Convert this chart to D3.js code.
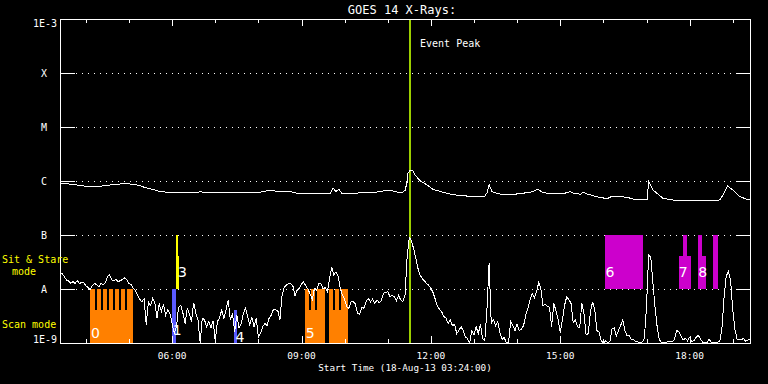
<!DOCTYPE html>
<html><head><meta charset="utf-8">
<script src="https://cdn.jsdelivr.net/npm/d3@7"></script>
<style>html,body{margin:0;padding:0;background:#000;}svg{display:block;}</style>
</head><body><svg id="c" width="768" height="384"></svg>
<script>
// ---------- data ----------
const title = "GOES 14 X-Rays:";
const xAxisTitle = "Start Time (18-Aug-13 03:24:00)";
const dateStr = "2013-08-18";
const startTime = "03:24";
const endTime = "19:24";
const xMajorHours = [6, 9, 12, 15, 18];
const xTickLabels = ["06:00", "09:00", "12:00", "15:00", "18:00"];
const xMinorHours = [4, 5, 7, 8, 10, 11, 13, 14, 16, 17, 19];
const yTickValues = [1e-3, 1e-4, 1e-5, 1e-6, 1e-7, 1e-8, 1e-9];
const yTickLabels = ["1E-3", "X", "M", "C", "B", "A", "1E-9"];
const peakTime = "11:31";
const peakLabel = "Event Peak";

// short channel, 3-minute samples from 03:24
const shortStepMinutes = 3;
const shortFlux = [
1.95e-8,1.95e-8,1.69e-8,1.47e-8,1.41e-8,1.27e-8,1.37e-8,1.27e-8,1.43e-8,1.27e-8,
1.31e-8,1.33e-8,1.15e-8,1.07e-8,9.6e-9,1.15e-8,1.27e-8,1.19e-8,1.10e-8,1.27e-8,
1.19e-8,1.31e-8,1.69e-8,1.82e-8,1.47e-8,1.41e-8,1.51e-8,1.37e-8,1.43e-8,1.51e-8,
1.60e-8,1.47e-8,1.27e-8,1.20e-8,1.03e-8,9.3e-9,7.7e-9,6.4e-9,5.8e-9,6.6e-9,
2.2e-9,5.8e-9,5.0e-9,6.7e-9,5.6e-9,2.9e-9,5.4e-9,3.8e-9,5.3e-9,3.3e-9,
4.1e-9,3.5e-9,2.3e-9,1.5e-9,2.0e-9,4.6e-9,5.0e-9,3.6e-9,2.3e-9,4.4e-9,
3.5e-9,2.5e-9,5.6e-9,3.5e-9,2.7e-9,9e-10,2.9e-9,2.7e-9,2.0e-9,2.5e-9,
1.9e-9,2.6e-9,1.1e-9,2.5e-9,2.9e-9,4.1e-9,2.9e-9,4.1e-9,6.3e-9,2.7e-9,
3.5e-9,1.6e-9,3.3e-9,1.9e-9,2.3e-9,3.4e-9,4.4e-9,3.1e-9,2.2e-9,3.0e-9,
2.0e-9,2.9e-9,1.3e-9,1.5e-9,2.0e-9,2.3e-9,2.1e-9,2.9e-9,3.3e-9,4.2e-9,
4.1e-9,4.0e-9,2.7e-9,7.7e-9,1.07e-8,1.19e-8,1.27e-8,1.27e-8,1.14e-8,7.4e-9,
9.6e-9,1.03e-8,1.24e-8,1.35e-8,1.14e-8,9.9e-9,8.1e-9,6.4e-9,1.03e-8,9.6e-9,
1.27e-8,1.27e-8,9.9e-9,1.07e-8,8.9e-9,1.51e-8,2.59e-8,1.82e-8,2.09e-8,1.74e-8,
1.03e-8,7.7e-9,6.4e-9,4.7e-9,4.4e-9,5.8e-9,5.8e-9,5.3e-9,3.5e-9,3.4e-9,
4.6e-9,4.4e-9,5.9e-9,6.7e-9,5.8e-9,6.5e-9,5.4e-9,6.3e-9,5.6e-9,6.1e-9,
8.3e-9,8.6e-9,8.9e-9,7.3e-9,7.6e-9,7.2e-9,6.1e-9,7.6e-9,6.3e-9,5.8e-9,
7.7e-9,3.97e-8,9.06e-8,7.74e-8,5.58e-8,3.70e-8,2.41e-8,1.82e-8,1.55e-8,1.41e-8,
1.27e-8,1.17e-8,1.03e-8,8.6e-9,6.5e-9,4.8e-9,4.2e-9,3.8e-9,3.1e-9,2.9e-9,
2.3e-9,2.7e-9,2.1e-9,2.2e-9,1.5e-9,1.7e-9,2.0e-9,1.7e-9,1.3e-9,1.2e-9,
9e-10,1.7e-9,1.4e-9,2.0e-9,1.5e-9,2.2e-9,1.2e-9,1.1e-9,4.1e-9,2.99e-8,
2.3e-9,2.7e-9,2.1e-9,2.5e-9,1.55e-9,1.17e-9,1.27e-9,1.01e-9,9e-10,2.5e-9,
2.1e-9,1.7e-9,2.25e-9,1.7e-9,1.8e-9,2.1e-9,3.3e-9,4.4e-9,6.3e-9,8.1e-9,
6.9e-9,8.9e-9,1.31e-8,1.03e-8,4.8e-9,5.3e-9,4.8e-9,4.6e-9,2.0e-9,5.4e-9,
4.0e-9,2.7e-9,1.55e-9,2.7e-9,5.0e-9,7.2e-9,6.4e-9,5.4e-9,2.4e-9,2.7e-9,
2.0e-9,1.9e-9,5.4e-9,3.5e-9,1.4e-9,1.5e-9,3.8e-9,5.8e-9,4.2e-9,1.7e-9,
1.6e-9,1.1e-9,9e-10,1.1e-9,9e-10,1.06e-9,1.8e-9,1.9e-9,1.35e-9,1.7e-9,
2.1e-9,2.7e-9,1.7e-9,1.35e-9,1.35e-9,1.17e-9,1.14e-9,1.07e-9,1.04e-9,9e-10,
1.04e-9,1.22e-9,4.7e-9,4.26e-8,3.86e-8,1.27e-8,4.4e-9,1.9e-9,1.14e-9,1.01e-9,
9e-10,1.01e-9,1.06e-9,1.06e-9,1.06e-9,1.17e-9,1.7e-9,1.6e-9,1.37e-9,1.14e-9,
1.22e-9,1.1e-9,1.27e-9,1.06e-9,1.1e-9,1.27e-9,1.4e-9,1.19e-9,1.04e-9,9e-10,
1.01e-9,1.17e-9,1.04e-9,1.04e-9,1.04e-9,1.04e-9,1.06e-9,1.9e-9,7.2e-9,1.74e-8,
2.09e-8,1.47e-8,4.1e-9,1.8e-9,1.17e-9,1.14e-9,1.17e-9,1.2e-9,1.07e-9,1.14e-9,1.14e-9
];

// long channel, minutes after 03:24
const longMinutes = [
0,18,39,56,65,74,84,97,111,118,
129,139,149,157,185,195,205,213,232,241,
260,269,278,292,306,324,330,376,380,384,
388,392,413,422,441,449,463,469,477,480,
483,484,487,491,494,501,511,519,533,543,
557,566,591,594,597,601,608,616,636,654,
661,665,671,678,692,700,705,710,714,724,
728,733,747,761,769,779,789,797,817,819,
825,839,858,890,918,925,929,936,946,956,
960];
const longFlux = [
9.07e-7,8.69e-7,7.84e-7,8.01e-7,8.26e-7,8.62e-7,8.80e-7,8.80e-7,8.26e-7,7.58e-7,
7.02e-7,6.39e-7,6.20e-7,6.00e-7,6.00e-7,6.30e-7,6.12e-7,6.00e-7,6.00e-7,6.07e-7,
6.25e-7,6.00e-7,6.18e-7,6.73e-7,6.33e-7,6.25e-7,5.92e-7,5.92e-7,7.32e-7,6.39e-7,
7.11e-7,5.92e-7,5.92e-7,6.25e-7,6.25e-7,6.53e-7,6.53e-7,6.25e-7,6.25e-7,6.67e-7,
9.58e-7,1.39e-6,1.56e-6,1.53e-6,1.29e-6,1.01e-6,8.43e-7,7.02e-7,6.18e-7,5.75e-7,
5.34e-7,5.27e-7,5.27e-7,6.00e-7,8.69e-7,6.33e-7,5.92e-7,5.57e-7,5.75e-7,6.18e-7,
6.67e-7,7.02e-7,6.18e-7,5.92e-7,5.92e-7,5.75e-7,6.12e-7,6.33e-7,6.00e-7,5.67e-7,
6.18e-7,5.75e-7,5.12e-7,4.70e-7,5.27e-7,5.12e-7,4.99e-7,4.64e-7,4.64e-7,9.71e-7,
6.81e-7,4.78e-7,4.32e-7,4.32e-7,4.45e-7,6.33e-7,8.08e-7,6.81e-7,5.12e-7,4.58e-7,
4.45e-7];

// scan-mode bars [start, end, top level]; they rise from the 1E-9 floor
const scanBars = [
  ["04:06","05:06",4e-9],
  ["04:06","04:13",1e-8],["04:15","04:21",1e-8],["04:24","04:29",1e-8],["04:32","04:38",1e-8],
  ["04:40","04:46",1e-8],["04:49","04:54",1e-8],["04:57","05:06",1e-8],
  ["09:05","09:33",4e-9],["09:38","10:05",4e-9],
  ["09:05","09:10",1e-8],["09:13","09:19",1e-8],["09:22","09:33",1e-8],
  ["09:38","09:44",1e-8],["09:47","09:52",1e-8],["09:55","10:05",1e-8]
];
const blueBars = [["06:00","06:06",1e-8],["07:26","07:30",4e-9]];
// sit & stare bars [start, end, top level]; they rise from the A (1E-8) level
const yellowBars = [["06:05","06:08",1e-7],["06:05","06:09",4e-8]];
const magentaBars = [
  ["16:02","16:55",1e-7],
  ["17:51","17:56",1e-7],["17:45","18:02",4e-8],
  ["18:12","18:17",1e-7],["18:12","18:23",4e-8],
  ["18:33","18:40",1e-7]
];
const eventLabels = [
  ["0","04:07","scan"],["1","06:01","blue"],["3","06:08","stare"],["4","07:28","blue2"],
  ["5","09:06","scan"],["6","16:03","stare"],["7","17:45","stare"],["8","18:12","stare"]
];

// ---------- drawing ----------
const svg = d3.select("#c");
svg.append("rect").attr("width",768).attr("height",384).attr("fill","#000");
const T = s => new Date(dateStr + "T" + s + ":00Z");
const t0 = T(startTime);
const x = d3.scaleUtc().domain([t0, T(endTime)]).range([60, 750]);
const y = d3.scaleLog().domain([1e-9, 1e-3]).range([343, 19]).clamp(true);
const mono = "'DejaVu Sans Mono', monospace";

const g = svg.append("g").attr("shape-rendering","crispEdges");

// dotted class grid lines
g.selectAll("line.grid").data(yTickValues.slice(1, -1)).join("line")
  .attr("x1", 76).attr("x2", 736)
  .attr("y1", d => Math.round(y(d)) + 0.5).attr("y2", d => Math.round(y(d)) + 0.5)
  .attr("stroke", "#fff").attr("stroke-dasharray", "1,5");

function bars(data, bottom, color) {
  g.append("g").selectAll("rect").data(data).join("rect")
    .attr("x", d => x(T(d[0])))
    .attr("width", d => x(T(d[1])) - x(T(d[0])))
    .attr("y", d => y(d[2]))
    .attr("height", d => y(bottom) - y(d[2]))
    .attr("fill", color);
}
bars(scanBars, 1e-9, "#ff8000");
bars(blueBars, 1e-9, "#5a5aff");
bars(yellowBars, 1e-8, "#ffff00");
bars(magentaBars, 1e-8, "#cc00cc");

// event labels
const labelY = {scan: y(1e-9) - 5, blue: y(1e-9) - 8, blue2: y(1e-9) - 1, stare: y(1e-8) - 12};
g.append("g").selectAll("text").data(eventLabels).join("text")
  .attr("x", d => x(T(d[1])))
  .attr("y", d => labelY[d[2]])
  .attr("fill", "#fff").attr("font-family", "'DejaVu Sans', sans-serif")
  .attr("font-size", 14)
  .text(d => d[0]);

// curves
const lineGen = d3.line().x(d => x(d[0])).y(d => y(d[1]));
const shortPts = shortFlux.map((v, i) => [new Date(+t0 + i * shortStepMinutes * 60000), v]);
const longPts = longFlux.map((v, i) => [new Date(+t0 + longMinutes[i] * 60000), v]);
svg.append("path").attr("d", lineGen(shortPts)).attr("fill","none").attr("stroke","#fff").attr("stroke-width",1).attr("shape-rendering","crispEdges");
svg.append("path").attr("d", lineGen(longPts)).attr("fill","none").attr("stroke","#fff").attr("stroke-width",1).attr("shape-rendering","crispEdges");

// event peak line
const px = x(T(peakTime));
g.append("line").attr("x1", px).attr("x2", px).attr("y1", 19).attr("y2", 343)
  .attr("stroke", "#9ccf00").attr("stroke-width", 2);
svg.append("text").attr("x", px + 10).attr("y", 47).attr("fill", "#fff")
  .attr("font-family", mono).attr("font-size", 10).text(peakLabel);

// frame
g.append("rect").attr("x", 60.5).attr("y", 19.5).attr("width", 690).attr("height", 324)
  .attr("fill", "none").attr("stroke", "#fff");

// x ticks
const tickH = h => x(T(String(h).padStart(2,"0") + ":00"));
const ticks = xMajorHours.map(h => [h, 7]).concat(xMinorHours.map(h => [h, 4]));
g.selectAll("line.tt").data(ticks).join("line")
  .attr("x1", d => Math.round(tickH(d[0])) + 0.5).attr("x2", d => Math.round(tickH(d[0])) + 0.5)
  .attr("y1", 19).attr("y2", d => 19 + d[1]).attr("stroke", "#fff");
g.selectAll("line.tb").data(ticks).join("line")
  .attr("x1", d => Math.round(tickH(d[0])) + 0.5).attr("x2", d => Math.round(tickH(d[0])) + 0.5)
  .attr("y1", 343).attr("y2", d => 343 - d[1]).attr("stroke", "#fff");
svg.selectAll("text.xl").data(xMajorHours).join("text")
  .attr("x", d => tickH(d)).attr("y", 359).attr("text-anchor", "middle")
  .attr("fill", "#fff").attr("font-family", mono).attr("font-size", 9.5)
  .text((d, i) => xTickLabels[i]);
svg.append("text").attr("x", 405).attr("y", 371).attr("text-anchor", "middle")
  .attr("fill", "#fff").attr("font-family", mono).attr("font-size", 9.3).text(xAxisTitle);

// y ticks
const mids = yTickValues.slice(1, -1);
g.selectAll("line.yl").data(mids).join("line")
  .attr("x1", 60).attr("x2", 75)
  .attr("y1", d => Math.round(y(d)) + 0.5).attr("y2", d => Math.round(y(d)) + 0.5).attr("stroke", "#fff");
g.selectAll("line.yr").data(mids).join("line")
  .attr("x1", 736).attr("x2", 751)
  .attr("y1", d => Math.round(y(d)) + 0.5).attr("y2", d => Math.round(y(d)) + 0.5).attr("stroke", "#fff");
svg.selectAll("text.yt").data(yTickValues).join("text")
  .attr("x", (d, i) => (i === 0 || i === yTickValues.length - 1) ? 57 : 44)
  .attr("text-anchor", (d, i) => (i === 0 || i === yTickValues.length - 1) ? "end" : "middle")
  .attr("y", (d, i) => i === 0 ? y(d) + 8 : (i === yTickValues.length - 1 ? y(d) : y(d) + 4))
  .attr("fill", "#fff").attr("font-family", mono).attr("font-size", 10)
  .text((d, i) => yTickLabels[i]);

// mode labels
const yl = svg.append("g").attr("fill", "#ffff00").attr("font-family", mono).attr("font-size", 10);
yl.append("text").attr("x", 2).attr("y", 263).text("Sit & Stare");
yl.append("text").attr("x", 24).attr("y", 275).attr("text-anchor", "middle").text("mode");
yl.append("text").attr("x", 2).attr("y", 328).text("Scan mode");

// title
svg.append("text").attr("x", 402).attr("y", 13.5).attr("text-anchor", "middle")
  .attr("fill", "#fff").attr("font-family", mono).attr("font-size", 12).text(title);
</script>
</body></html>
